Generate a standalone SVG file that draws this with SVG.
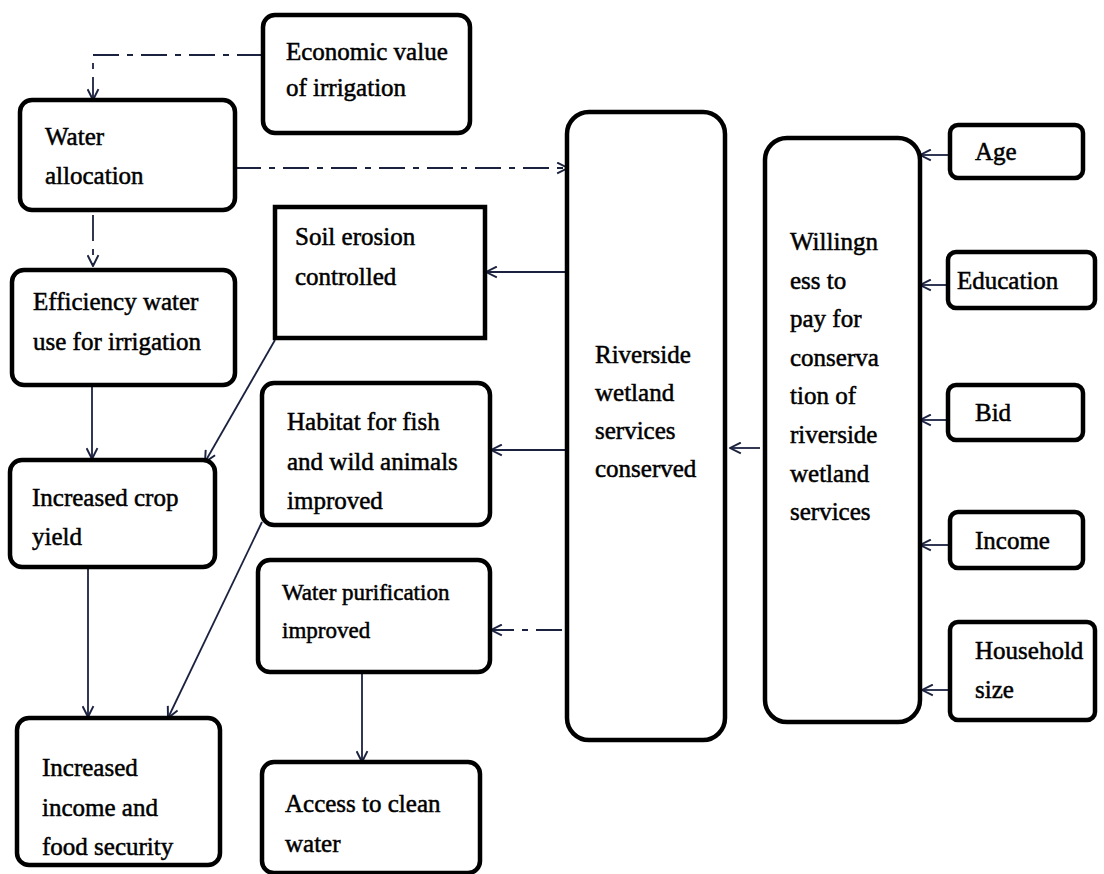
<svg xmlns="http://www.w3.org/2000/svg" width="1104" height="874" viewBox="0 0 1104 874">
<defs>
<marker id="arr" viewBox="0 0 12 12" refX="11" refY="6" markerWidth="13" markerHeight="13" markerUnits="userSpaceOnUse" orient="auto">
<path d="M1,1 L11,6 L1,11" fill="none" stroke="#1b2240" stroke-width="1.8"/>
</marker>
<style>
.box{fill:#fff;stroke:#000;stroke-width:4.5}
.t{font-family:"Liberation Serif","Times New Roman",serif;font-size:25px;fill:#000;stroke:#000;stroke-width:0.5}
.s{font-size:23px}
.c{fill:none;stroke:#1b2240;stroke-width:1.8;marker-end:url(#arr)}
.d{stroke-dasharray:26 8 6 8}
</style>
</defs>
<rect width="1104" height="874" fill="#fff"/>

<g id="connectors">
<path class="c d" d="M263,55 L93,55 L93,100"/>
<path class="c d" d="M235,168 L568,168"/>
<path class="c d" d="M93,215 L93,266"/>
<path class="c" d="M567,272 L486,272"/>
<path class="c" d="M92,385 L92,459"/>
<path class="c" d="M275,340 L205,462"/>
<path class="c" d="M567,450 L491,450"/>
<path class="c" d="M262,522 L168,718"/>
<path class="c d" d="M562,630 L491,630"/>
<path class="c" d="M88,567 L88,717"/>
<path class="c" d="M362,672 L362,762"/>
<path class="c" d="M760,448 L730,448"/>
<path class="c" d="M948,155 L920,155"/>
<path class="c" d="M948,285 L920,285"/>
<path class="c" d="M948,420 L920,420"/>
<path class="c" d="M950,545 L920,545"/>
<path class="c" d="M950,690 L922,690"/>
</g>

<g id="economic"><rect class="box" x="263" y="15" width="207" height="118" rx="12"/>
<text class="t" x="286" y="60">Economic value</text><text class="t" x="286" y="96">of irrigation</text></g>

<g id="water-allocation"><rect class="box" x="20" y="100" width="215" height="110" rx="12"/>
<text class="t" x="45" y="145">Water</text><text class="t" x="45" y="184">allocation</text></g>

<g id="efficiency"><rect class="box" x="12" y="270" width="223" height="115" rx="12"/>
<text class="t" x="33" y="310">Efficiency water</text><text class="t" x="33" y="350">use for irrigation</text></g>

<g id="crop-yield"><rect class="box" x="10" y="460" width="205" height="107" rx="12"/>
<text class="t" x="32" y="506">Increased crop</text><text class="t" x="32" y="545">yield</text></g>

<g id="income-food"><rect class="box" x="17" y="718" width="203" height="147" rx="12"/>
<text class="t" x="42" y="776">Increased</text><text class="t" x="42" y="816">income and</text><text class="t" x="42" y="855">food security</text></g>

<g id="soil"><rect class="box" x="275" y="207" width="210" height="131"/>
<text class="t" x="295" y="245">Soil erosion</text><text class="t" x="295" y="285">controlled</text></g>

<g id="habitat"><rect class="box" x="262" y="383" width="228" height="142" rx="12"/>
<text class="t" x="287" y="430">Habitat for fish</text><text class="t" x="287" y="470">and wild animals</text><text class="t" x="287" y="509">improved</text></g>

<g id="purification"><rect class="box" x="258" y="560" width="232" height="112" rx="12"/>
<text class="t s" x="282" y="600">Water purification</text><text class="t s" x="282" y="638">improved</text></g>

<g id="access"><rect class="box" x="262" y="762" width="218" height="111" rx="12"/>
<text class="t" x="285" y="812">Access to clean</text><text class="t" x="285" y="852">water</text></g>

<g id="riverside"><rect class="box" x="567" y="112" width="158" height="628" rx="22"/>
<text class="t" x="595" y="363">Riverside</text><text class="t" x="595" y="401">wetland</text><text class="t" x="595" y="439">services</text><text class="t" x="595" y="477">conserved</text></g>

<g id="willingness"><rect class="box" x="765" y="138" width="155" height="584" rx="22"/>
<text class="t" x="790" y="250">Willingn</text><text class="t" x="790" y="289">ess to</text><text class="t" x="790" y="327">pay for</text><text class="t" x="790" y="366">conserva</text><text class="t" x="790" y="404">tion of</text><text class="t" x="790" y="443">riverside</text><text class="t" x="790" y="482">wetland</text><text class="t" x="790" y="520">services</text></g>

<g id="age"><rect class="box" x="950" y="125" width="133" height="53" rx="8"/><text class="t" x="975" y="160">Age</text></g>
<g id="education"><rect class="box" x="948" y="252" width="147" height="56" rx="8"/><text class="t" x="957" y="289">Education</text></g>
<g id="bid"><rect class="box" x="948" y="385" width="135" height="55" rx="8"/><text class="t" x="975" y="421">Bid</text></g>
<g id="income"><rect class="box" x="950" y="512" width="133" height="56" rx="8"/><text class="t" x="975" y="549">Income</text></g>
<g id="household"><rect class="box" x="950" y="622" width="145" height="98" rx="8"/><text class="t" x="975" y="659">Household</text><text class="t" x="975" y="698">size</text></g>
</svg>
